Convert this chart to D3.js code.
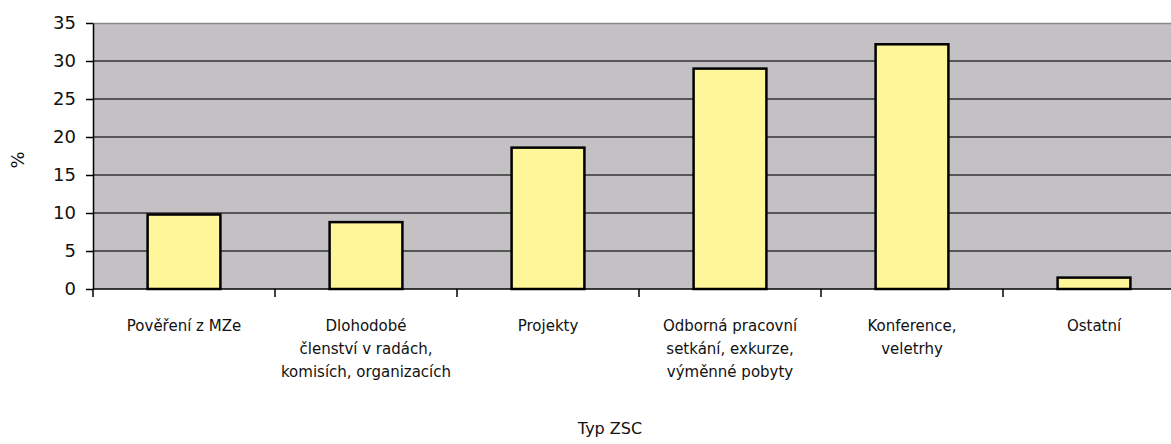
<!DOCTYPE html>
<html>
<head>
<meta charset="utf-8">
<script src="https://cdn.jsdelivr.net/npm/d3@7"></script>
<style>
  body { margin: 0; background: #fff; }
  text { font-family: "DejaVu Sans", sans-serif; fill: #111; }
</style>
</head>
<body>
<div id="chart"></div>
<script>
// Data
var categories = [
    ['Pověření z MZe'],
    ['Dlohodobé', 'členství v radách,', 'komisích, organizacích'],
    ['Projekty'],
    ['Odborná pracovní', 'setkání, exkurze,', 'výměnné pobyty'],
    ['Konference,', 'veletrhy'],
    ['Ostatní']
];
var values = [9.8, 8.8, 18.6, 29.0, 32.2, 1.5];
var yTicks = [0, 5, 10, 15, 20, 25, 30, 35];

var width = 1171, height = 444;
var margin = {top: 23, right: -14, bottom: 155, left: 93};
var innerW = width - margin.left - margin.right,
    innerH = height - margin.top - margin.bottom;

var svg = d3.select('#chart').append('svg')
    .attr('width', width)
    .attr('height', height);

var g = svg.append('g')
    .attr('transform', 'translate(' + margin.left + ',' + margin.top + ')');

var x = d3.scaleBand()
    .domain(d3.range(categories.length))
    .range([0, innerW])
    .paddingInner(0.6)
    .paddingOuter(0.3);

var y = d3.scaleLinear().domain([0, 35]).range([innerH, 0]);

// plot background
g.append('rect')
    .attr('x', 0).attr('y', 0)
    .attr('width', innerW).attr('height', innerH)
    .attr('fill', '#c3c1c4');
g.append('line')
    .attr('x1', 0).attr('x2', innerW)
    .attr('y1', 0.5).attr('y2', 0.5)
    .attr('stroke', '#8a8a8a').attr('stroke-width', 1.5);

// gridlines
g.selectAll('.grid').data(yTicks.filter(function(d) { return d > 0 && d < 35; }))
    .enter().append('line')
    .attr('x1', 0).attr('x2', innerW)
    .attr('y1', function(d) { return y(d); })
    .attr('y2', function(d) { return y(d); })
    .attr('stroke', '#333').attr('stroke-width', 1.5);

// bars
g.selectAll('.bar').data(values)
    .enter().append('rect')
    .attr('x', function(d, i) { return x(i); })
    .attr('y', function(d) { return y(d); })
    .attr('width', x.bandwidth())
    .attr('height', function(d) { return innerH - y(d); })
    .attr('fill', '#fff699')
    .attr('stroke', '#000')
    .attr('stroke-width', 2.5);

// y axis
var yAxis = g.append('g')
    .call(d3.axisLeft(y).tickValues(yTicks).tickSize(7).tickSizeOuter(0).tickPadding(10));
yAxis.select('.domain').attr('stroke', '#000').attr('stroke-width', 1.5);
yAxis.selectAll('.tick line').attr('stroke', '#000').attr('stroke-width', 1.5);
yAxis.selectAll('.tick text')
    .style('font-size', '18px')
    .style('font-family', '"DejaVu Sans", sans-serif')
    .attr('fill', '#111');

// x axis line and category ticks
var step = innerW / categories.length;
g.append('line')
    .attr('x1', 0).attr('x2', innerW)
    .attr('y1', innerH).attr('y2', innerH)
    .attr('stroke', '#000').attr('stroke-width', 1.5);
g.selectAll('.xtick').data(d3.range(categories.length + 1))
    .enter().append('line')
    .attr('x1', function(d) { return d * step; })
    .attr('x2', function(d) { return d * step; })
    .attr('y1', innerH).attr('y2', innerH + 8)
    .attr('stroke', '#000').attr('stroke-width', 1.5);

// category labels
var labels = g.selectAll('.xlabel').data(categories)
    .enter().append('text')
    .attr('text-anchor', 'middle')
    .style('font-size', '15px')
    .attr('transform', function(d, i) {
        return 'translate(' + (x(i) + x.bandwidth() / 2) + ',' + (innerH + 42) + ')';
    });
labels.selectAll('tspan').data(function(d) { return d; })
    .enter().append('tspan')
    .attr('x', 0)
    .attr('dy', function(d, i) { return i === 0 ? 0 : 23; })
    .text(function(d) { return d; });

// axis titles
svg.append('text')
    .attr('text-anchor', 'middle')
    .style('font-size', '18px')
    .attr('transform', 'translate(24,160) rotate(-90)')
    .text('%');
svg.append('text')
    .attr('x', 610).attr('y', 434)
    .attr('text-anchor', 'middle')
    .style('font-size', '16px')
    .text('Typ ZSC');
</script>
</body>
</html>
